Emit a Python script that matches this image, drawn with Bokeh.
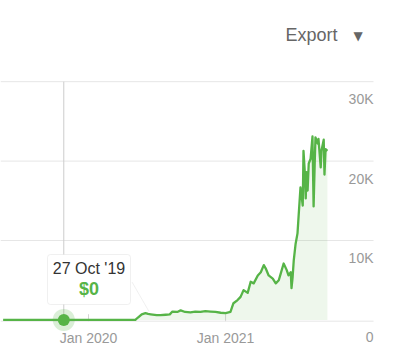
import pandas as pd
from bokeh.plotting import figure
from bokeh.models import (Range1d, Label, LabelSet, ColumnDataSource,
                          BoxAnnotation, PolyAnnotation)
from bokeh.core.properties import value
from bokeh.embed import file_html
from bokeh.resources import INLINE

# ---------------- data ----------------
dates = [
    "2019-05-18", "2019-10-27", "2020-05-05", "2020-05-12", "2020-05-22", "2020-06-01",
    "2020-06-08", "2020-06-15", "2020-07-01", "2020-07-11", "2020-07-25", "2020-08-05",
    "2020-08-12", "2020-08-25", "2020-09-03", "2020-09-15", "2020-09-29", "2020-10-12",
    "2020-10-26", "2020-11-08", "2020-11-22", "2020-12-05", "2020-12-19", "2021-01-01",
    "2021-01-14", "2021-01-22", "2021-02-02", "2021-02-10", "2021-02-18", "2021-03-01",
    "2021-03-09", "2021-03-17", "2021-03-28", "2021-04-05", "2021-04-13", "2021-04-18",
    "2021-04-26", "2021-05-07", "2021-05-15", "2021-05-23", "2021-05-28", "2021-06-05",
    "2021-06-13", "2021-06-18", "2021-06-24", "2021-06-26", "2021-06-29", "2021-07-02",
    "2021-07-07", "2021-07-12", "2021-07-15", "2021-07-20", "2021-07-26", "2021-07-28",
    "2021-07-31", "2021-08-03", "2021-08-05", "2021-08-08", "2021-08-11", "2021-08-16",
    "2021-08-21", "2021-08-24", "2021-08-27", "2021-08-29", "2021-09-04", "2021-09-06",
    "2021-09-12", "2021-09-14", "2021-09-20", "2021-09-22", "2021-09-25", "2021-09-30",
]
values = [
    0, 0, 0, 300, 700, 850,
    750, 700, 600, 600, 650, 700,
    1050, 1000, 1200, 1000, 950, 1050,
    1000, 1100, 1050, 1000, 900, 850,
    1000, 2100, 2500, 2900, 3750, 3400,
    4800, 4600, 5600, 6000, 6900, 6500,
    5600, 5200, 4600, 5000, 5800, 7100,
    6300, 5600, 6000, 4000, 5400, 7500,
    9600, 10900, 13100, 16700, 14400, 21300,
    19000, 15300, 18600, 16300, 19700, 20300,
    23100, 14300, 19800, 23000, 22200, 22800,
    19200, 21300, 22700, 18300, 21500, 21300,
]
assert len(dates) == len(values)

x_tick_dates = ["2020-01-01", "2021-01-01"]
x_tick_labels = ["Jan 2020", "Jan 2021"]
y_ticks = [0, 10000, 20000, 30000]
y_tick_labels = ["0", "10K", "20K", "30K"]

hover_date = "2019-10-27"
hover_value = 0
hover_title = "27 Oct '19"
hover_text = "$0"

# ---------------- style / layout ----------------
GREEN = "#56b447"
FONT = "Liberation Sans"
LABEL_GREY = "#999999"
GRID = "#e6e6e6"
W, H = 394, 357

X_START = pd.Timestamp("2019-05-11")
X_END = pd.Timestamp("2022-03-28")          # canvas right edge
PLOT_END = pd.Timestamp("2022-01-31")       # right end of the plot area (grid lines)
Y_START, Y_END = -4735, 40226               # canvas bottom / top
UPP = (Y_END - Y_START) / H                 # y units per pixel
BASELINE = -1.3 * UPP                       # axis line just under zero
TICK_LEN = 7 * UPP

x = pd.to_datetime(dates)
src = ColumnDataSource(dict(x=x, y=values))

p = figure(
    width=W, height=H, min_border=0,
    x_axis_location=None, y_axis_location=None,
    x_axis_type="datetime",
    x_range=Range1d(X_START, X_END),
    y_range=Range1d(Y_START, Y_END),
    output_backend="svg", toolbar_location=None,
)
p.outline_line_color = None
p.background_fill_color = "white"
p.border_fill_color = "white"
p.grid.visible = False

# grid lines and baseline
grid_y = [t for t in y_ticks if t > 0]
p.segment(x0=[X_START] * len(grid_y), x1=[PLOT_END] * len(grid_y),
          y0=grid_y, y1=grid_y, line_color=GRID, line_width=1)
p.segment(x0=[X_START], x1=[PLOT_END], y0=[BASELINE], y1=[BASELINE],
          line_color=GRID, line_width=1)

# x ticks (inside, short) and labels
xt = pd.to_datetime(x_tick_dates)
p.segment(x0=xt, x1=xt, y0=[BASELINE] * len(xt), y1=[BASELINE + TICK_LEN] * len(xt),
          line_color="#d5d5d5", line_width=1)
xsrc = ColumnDataSource(dict(x=xt, y=[0] * len(xt), t=x_tick_labels))
p.add_layout(LabelSet(x="x", y="y", text="t", source=xsrc, y_offset=-18,
                      text_align="center", text_baseline="middle",
                      text_font=value(FONT), text_font_size="14px",
                      text_color=LABEL_GREY))

# y tick labels (right aligned, below their grid line)
ysrc = ColumnDataSource(dict(y=y_ticks, t=y_tick_labels,
                             x=[PLOT_END] * len(y_ticks)))
p.add_layout(LabelSet(x="x", y="y", text="t", source=ysrc,
                      y_offset=-17.5, text_align="right", text_baseline="middle",
                      text_font=value(FONT), text_font_size="14px",
                      text_color=LABEL_GREY))

# series
p.varea(x="x", y1=0, y2="y", source=src, fill_color=GREEN, fill_alpha=0.1)
p.line("x", "y", source=src, line_color=GREEN, line_width=2.3, line_join="round")

# crosshair
hx = [pd.Timestamp(hover_date)]
hy = [hover_value]
p.segment(x0=hx, x1=hx, y0=[BASELINE], y1=[y_ticks[-1]], line_color="#cccccc",
          line_width=1)

# tooltip (screen positions, bottom-up)
p.add_layout(PolyAnnotation(xs=[131.5, 148.5], ys=[75.5, 46], xs_units="screen",
                            ys_units="screen", fill_alpha=0, line_color="#cccccc",
                            line_width=1))
p.add_layout(BoxAnnotation(left=47, right=130, top=103, bottom=53,
                           left_units="screen", right_units="screen",
                           top_units="screen", bottom_units="screen",
                           fill_color="white", fill_alpha=1,
                           line_color="#cccccc", line_width=1, border_radius=3))
p.add_layout(Label(x=88.5, y=89, x_units="screen", y_units="screen", text=hover_title,
                   text_align="center", text_baseline="middle", text_font=FONT,
                   text_font_size="16px", text_color="#333333"))
p.add_layout(Label(x=88.5, y=69, x_units="screen", y_units="screen", text=hover_text,
                   text_align="center", text_baseline="middle", text_font=FONT,
                   text_font_size="18px", text_font_style="bold", text_color=GREEN))

# hover marker
p.scatter(x=hx, y=hy, size=22, fill_color=GREEN, fill_alpha=0.22, line_color=None)
p.scatter(x=hx, y=hy, size=12, fill_color=GREEN, line_color=None)

# export button
p.add_layout(Label(x=285, y=323, x_units="screen", y_units="screen", text="Export",
                   text_align="left", text_baseline="middle", text_font=FONT,
                   text_font_size="18px", text_color="#666666"))
p.add_layout(Label(x=357.5, y=322, x_units="screen", y_units="screen", text="▼",
                   text_align="center", text_baseline="middle", text_font="DejaVu Sans",
                   text_font_size="12px", text_color="#666666"))

open("out.html", "w").write(file_html(p, INLINE))
